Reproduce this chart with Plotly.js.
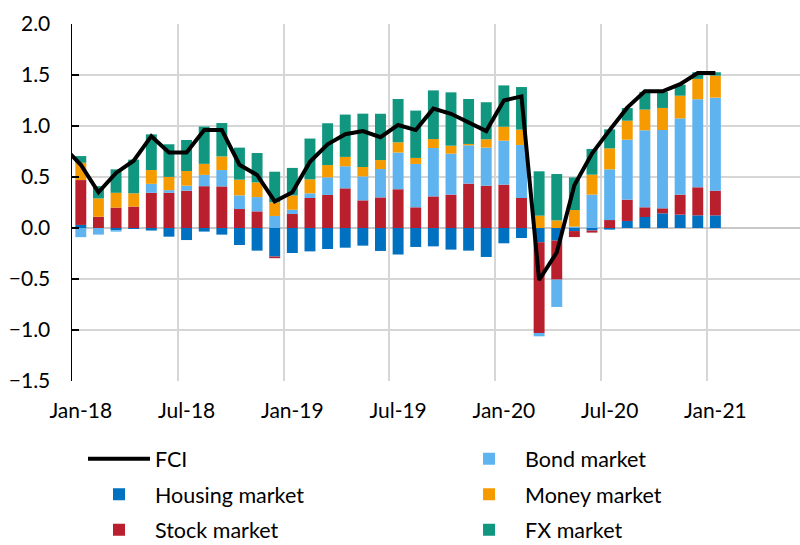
<!DOCTYPE html>
<html>
<head>
<meta charset="utf-8">
<script src="https://cdn.plot.ly/plotly-3.0.1.min.js"></script>
<style>
  html, body { margin: 0; padding: 0; background: #fff; }
  #chart { width: 800px; height: 545px; }
</style>
</head>
<body>
<div id="chart"></div>
<script>
// Months (Dec-17 only carries the FCI line point that is clipped at the axis)
const months = ["Dec-17",
  "Jan-18","Feb-18","Mar-18","Apr-18","May-18","Jun-18","Jul-18","Aug-18","Sep-18","Oct-18","Nov-18","Dec-18",
  "Jan-19","Feb-19","Mar-19","Apr-19","May-19","Jun-19","Jul-19","Aug-19","Sep-19","Oct-19","Nov-19","Dec-19",
  "Jan-20","Feb-20","Mar-20","Apr-20","May-20","Jun-20","Jul-20","Aug-20","Sep-20","Oct-20","Nov-20","Dec-20",
  "Jan-21"];

const housing = [null,
  0.03, 0.00, -0.023, -0.01, -0.025, -0.085, -0.118, -0.035, -0.065, -0.167, -0.222, -0.28,
  -0.245, -0.229, -0.206, -0.193, -0.173, -0.225, -0.26, -0.186, -0.18, -0.212, -0.222, -0.284,
  -0.15, -0.098, -0.14, -0.124, -0.03, -0.025, -0.016, 0.069, 0.108, 0.144, 0.131, 0.124,
  0.124];
const stock = [null,
  0.44, 0.11, 0.20, 0.21, 0.345, 0.345, 0.366, 0.41, 0.408, 0.186, 0.163, -0.016,
  0.137, 0.294, 0.324, 0.389, 0.271, 0.30, 0.38, 0.203, 0.31, 0.327, 0.435, 0.415,
  0.425, 0.294, -0.889, -0.382, -0.059, -0.02, 0.078, 0.209, 0.095, 0.049, 0.196, 0.275,
  0.242];
const bond = [null,
  -0.09, -0.065, -0.013, 0.0, 0.088, 0.026, 0.049, 0.111, 0.16, 0.134, 0.14, 0.118,
  0.042, 0.046, 0.173, 0.216, 0.235, 0.278, 0.36, 0.425, 0.474, 0.402, 0.376, 0.373,
  0.431, 0.52, -0.033, -0.268, 0.013, 0.327, 0.497, 0.588, 0.755, 0.768, 0.748, 0.863,
  0.912];
const money = [null,
  0.17, 0.18, 0.145, 0.13, 0.135, 0.13, 0.144, 0.108, 0.134, 0.154, 0.144, 0.134,
  0.14, 0.137, 0.12, 0.092, 0.092, 0.088, 0.10, 0.059, 0.088, 0.078, 0.013, 0.082,
  0.137, 0.15, 0.121, 0.075, 0.163, 0.196, 0.206, 0.186, 0.203, 0.216, 0.222, 0.20,
  0.216];
const fx = [null,
  0.065, 0.12, 0.23, 0.33, 0.35, 0.32, 0.304, 0.366, 0.327, 0.314, 0.288, 0.30,
  0.27, 0.40, 0.41, 0.415, 0.523, 0.454, 0.425, 0.464, 0.477, 0.523, 0.441, 0.363,
  0.405, 0.418, 0.435, 0.454, 0.32, 0.252, 0.186, 0.124, 0.173, 0.157, 0.108, 0.065,
  0.033];
const fci = [0.80,
  0.62, 0.35, 0.54, 0.66, 0.90, 0.74, 0.74, 0.96, 0.96, 0.62, 0.52, 0.26,
  0.35, 0.65, 0.82, 0.92, 0.95, 0.89, 1.01, 0.96, 1.17, 1.12, 1.04, 0.95,
  1.25, 1.29, -0.51, -0.24, 0.42, 0.73, 0.96, 1.18, 1.34, 1.34, 1.41, 1.52,
  1.52];

const seriesNames = ["FCI", "Housing market", "Stock market", "Bond market", "Money market", "FX market"];
const colors = {
  housing: "#0070C0", stock: "#BA1F2D", bond: "#5FB4F0", money: "#F59B00", fx: "#11967F", fci: "#000000"
};

// position of each month on a numeric month axis: Jan-18 starts at 0, bars at mid-month
const xPos = months.map((m, i) => i - 1 + 0.5);
const labelIdx = months.map((m, i) => i).filter(i => /^(Jan|Jul)/.test(months[i]));
const tickVals = labelIdx.map(i => xPos[i]);
const tickText = labelIdx.map(i => months[i]);
const gridVals = labelIdx.map(i => xPos[i] - 0.5);

const FONT = "Lato, 'Open Sans', sans-serif";

function barTrace(name, y, color, legend, rank) {
  return {
    type: "bar", name: name, x: xPos, y: y, width: 0.62,
    marker: { color: color, line: { width: 0 } },
    legend: legend, legendrank: rank, legendgroup: name, hoverinfo: "skip"
  };
}

const data = [
  barTrace(seriesNames[1], housing, colors.housing, "legend", 2),
  barTrace(seriesNames[2], stock, colors.stock, "legend", 3),
  barTrace(seriesNames[3], bond, colors.bond, "legend2", 1),
  barTrace(seriesNames[4], money, colors.money, "legend2", 2),
  barTrace(seriesNames[5], fx, colors.fx, "legend2", 3),
  {
    type: "scatter", mode: "lines", name: seriesNames[0], x: xPos, y: fci,
    line: { color: colors.fci, width: 4 }, legend: "legend", legendrank: 1,
    legendgroup: seriesNames[0], hoverinfo: "skip"
  }
];

const legendCommon = {
  y: -0.1606, xanchor: "left", yanchor: "top", orientation: "v",
  bgcolor: "rgba(0,0,0,0)", borderwidth: 0, itemwidth: 62,
  font: { family: FONT, size: 21.5, color: "#000" },
  traceorder: "grouped", tracegroupgap: 4.5
};

const layout = {
  width: 800, height: 545,
  margin: { l: 72, r: 0, t: 24, b: 164, autoexpand: false },
  paper_bgcolor: "#ffffff", plot_bgcolor: "#ffffff",
  font: { family: FONT, size: 21, color: "#000000" },
  barmode: "relative",
  showlegend: true,
  xaxis: {
    range: [0, 41.3],
    tickmode: "array", tickvals: tickVals, ticktext: tickText,
    ticks: "", showgrid: false, zeroline: false, showline: false,
    tickfont: { family: FONT, size: 21, color: "#000" },
    ticklabelstandoff: 15,
    minor: { tickmode: "array", tickvals: gridVals, showgrid: true, gridcolor: "#D6D6D6", gridwidth: 2, ticks: "" }
  },
  yaxis: {
    range: [-1.5, 2.0], tickmode: "linear", tick0: 0, dtick: 0.5, tickformat: ".1f",
    ticks: "inside", ticklen: 7, tickwidth: 1.5, tickcolor: "#000",
    showline: true, linecolor: "#000", linewidth: 1.5,
    showgrid: true, gridcolor: "#D6D6D6", gridwidth: 2,
    zeroline: true, zerolinecolor: "#C8C8C8", zerolinewidth: 2,
    tickfont: { family: FONT, size: 21, color: "#000" },
    ticklabelstandoff: 16
  },
  legend: Object.assign({ x: 0.0151 }, legendCommon),
  legend2: Object.assign({ x: 0.5234 }, legendCommon)
};

Plotly.newPlot("chart", data, layout, { staticPlot: true, displayModeBar: false });
</script>
</body>
</html>
